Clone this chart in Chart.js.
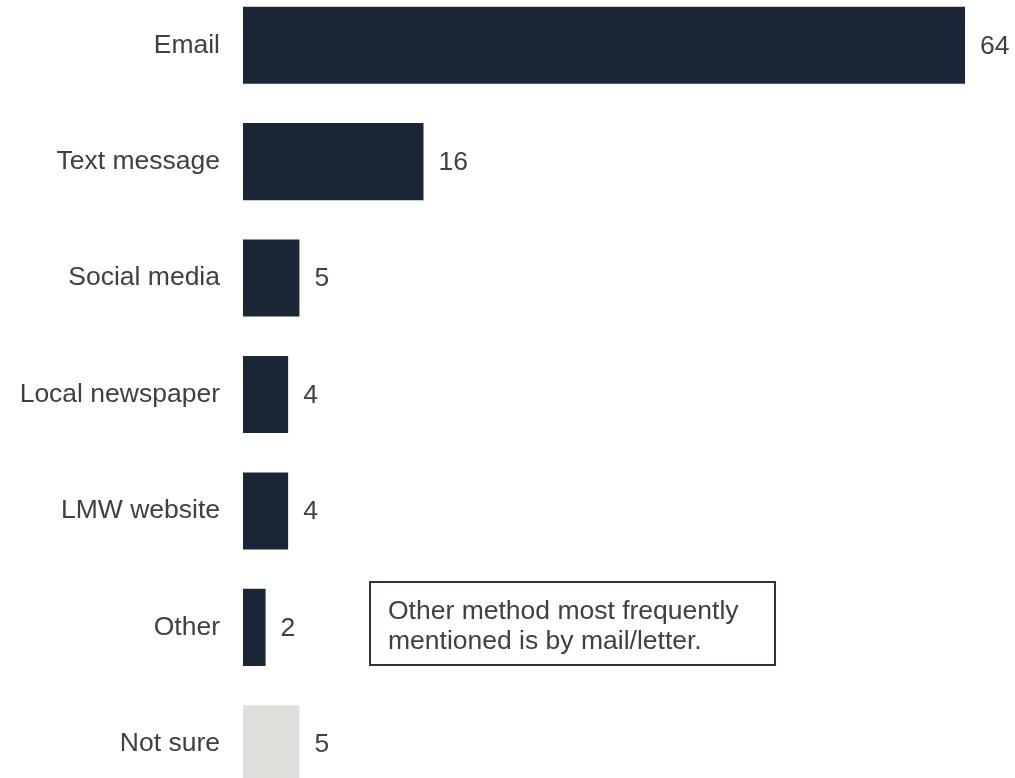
<!DOCTYPE html>
<html>
<head>
<meta charset="utf-8">
<title>Preferred contact method</title>
<script src="https://cdn.jsdelivr.net/npm/chart.js@4"></script>
<style>
  html, body {
    margin: 0;
    padding: 0;
    width: 1015px;
    height: 778px;
    overflow: hidden;
    background: #ffffff;
  }
  #wrap {
    position: relative;
    width: 1015px;
    height: 778px;
  }
  #chart {
    position: absolute;
    left: 0;
    top: -13px;
  }
  .note {
    position: absolute;
    left: 369px;
    top: 581px;
    width: 403px;
    height: 81px;
    border: 2px solid #2b3446;
    box-sizing: content-box;
    font-family: "Liberation Sans", Arial, sans-serif;
    font-size: 26.5px;
    line-height: 30px;
    color: #404040;
  }
  .note span {
    position: absolute;
    left: 17px;
    top: 12px;
    white-space: nowrap;
  }
</style>
</head>
<body>
<div id="wrap">
  <canvas id="chart" width="1015" height="815"></canvas>
  <div class="note"><span>Other method most frequently<br>mentioned is by mail/letter.</span></div>
</div>
<script>
const categories = ["Email", "Text message", "Social media", "Local newspaper", "LMW website", "Other", "Not sure"];
const percentages = [64, 16, 5, 4, 4, 2, 5];
const barColors = ["#1a2536", "#1a2536", "#1a2536", "#1a2536", "#1a2536", "#1a2536", "#dfe0dc"];

const fontFamily = "'Liberation Sans', Arial, sans-serif";
const fontSize = 26.5;
const textColor = "#404040";

// writes each value just past the end of its bar
const valueLabels = {
  id: "valueLabels",
  afterDatasetsDraw(chart) {
    const ctx = chart.ctx;
    const meta = chart.getDatasetMeta(0);
    ctx.save();
    ctx.font = fontSize + "px " + fontFamily;
    ctx.fillStyle = textColor;
    ctx.textAlign = "left";
    ctx.textBaseline = "middle";
    meta.data.forEach((bar, i) => {
      ctx.fillText(String(percentages[i]), bar.x + 15, bar.y + 1);
    });
    ctx.restore();
  },
};

new Chart(document.getElementById("chart"), {
  type: "bar",
  data: {
    labels: categories,
    datasets: [
      {
        data: percentages,
        backgroundColor: barColors,
        borderWidth: 0,
        barPercentage: 0.662,
        categoryPercentage: 1,
      },
    ],
  },
  options: {
    indexAxis: "y",
    responsive: false,
    animation: false,
    devicePixelRatio: 1,
    layout: {
      autoPadding: false,
      padding: { left: 0, right: 50, top: 0, bottom: 0 },
    },
    plugins: {
      legend: { display: false },
      tooltip: { enabled: false },
    },
    scales: {
      x: {
        display: false,
        min: 0,
        max: 64,
      },
      y: {
        grid: { display: false, drawTicks: false },
        border: { display: false },
        ticks: {
          padding: 23,
          color: textColor,
          font: { family: fontFamily, size: fontSize },
        },
        afterFit(scale) {
          // fixed label column, and let the bands run to the canvas edges
          scale.width = 243;
          scale.paddingTop = 0;
          scale.paddingBottom = 0;
        },
      },
    },
  },
  plugins: [valueLabels],
});
</script>
</body>
</html>
